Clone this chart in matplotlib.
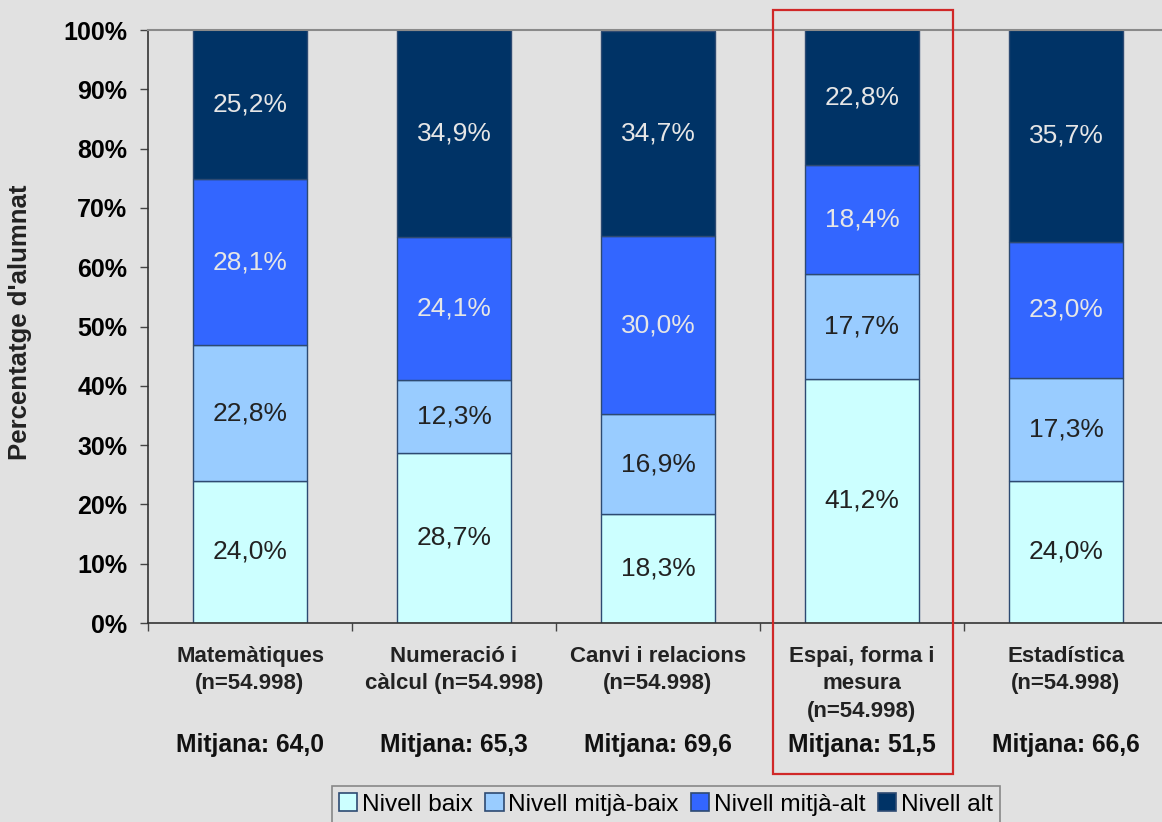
import numpy as np
import matplotlib
matplotlib.use("Agg")
import matplotlib.pyplot as plt
from matplotlib.patches import Rectangle, Patch

# Data
categories = ["Matemàtiques\n(n=54.998)", "Numeració i\ncàlcul (n=54.998)",
              "Canvi i relacions\n(n=54.998)", "Espai, forma i\nmesura\n(n=54.998)",
              "Estadística\n(n=54.998)"]
means = ["Mitjana: 64,0", "Mitjana: 65,3", "Mitjana: 69,6", "Mitjana: 51,5", "Mitjana: 66,6"]
series_names = ["Nivell baix", "Nivell mitjà-baix", "Nivell mitjà-alt", "Nivell alt"]
baix = [24.0, 28.7, 18.3, 41.2, 24.0]
mitja_baix = [22.8, 12.3, 16.9, 17.7, 17.3]
mitja_alt = [28.1, 24.1, 30.0, 18.4, 23.0]
alt = [25.2, 34.9, 34.7, 22.8, 35.7]

colors = ["#ccffff", "#99ccff", "#3366ff", "#003366"]
label_colors = ["#222222", "#222222", "#e6e6e6", "#e6e6e6"]
BG = "#e1e1e1"

plt.rcParams['font.family'] = ['Liberation Sans', 'DejaVu Sans']

fig = plt.figure(figsize=(11.62, 8.22), dpi=100, facecolor=BG)
ax = fig.add_axes([148 / 1162, 1 - 623 / 822, 1020 / 1162, 593 / 822])
ax.set_facecolor(BG)

x = np.arange(len(categories))
bottom = np.zeros(len(categories))
for vals, col, lc in zip([baix, mitja_baix, mitja_alt, alt], colors, label_colors):
    vals = np.array(vals)
    ax.bar(x, vals, width=0.555, bottom=bottom, color=col, edgecolor="#2d4a72",
           linewidth=1.0, zorder=2)
    for xi, b, v in zip(x, bottom, vals):
        ax.text(xi, min(b + v / 2, b + (100 - b) / 2), f"{v:.1f}%".replace(".", ","),
                ha="center", va="center", fontsize=19, color=lc, zorder=3)
    bottom += vals

ax.set_xlim(-0.5, len(categories) - 0.5)
ax.set_ylim(0, 100)
ax.set_yticks(np.arange(0, 101, 10))
ax.set_yticklabels([f"{v}%" for v in range(0, 101, 10)], fontsize=18, fontweight="bold")
ax.tick_params(axis="y", length=6, width=1, color="#444444", pad=9)

ax.set_xticks(np.arange(-0.5, len(categories), 1.0))
ax.set_xticklabels([])
ax.tick_params(axis="x", length=6, width=1, color="#444444")

for s in ["left", "bottom"]:
    ax.spines[s].set_color("#333333")
    ax.spines[s].set_linewidth(1.2)
ax.spines["top"].set_color("#8a8a8a")
ax.spines["top"].set_linewidth(1.5)
ax.spines["right"].set_visible(False)

trans = ax.get_xaxis_transform()
for xi, cat, m in zip(x, categories, means):
    ax.text(xi, -0.038, cat, transform=trans, ha="center", va="top",
            fontsize=16, fontweight="bold", color="#222222", linespacing=1.42)
    ax.text(xi, -0.2057, m, transform=trans, ha="center", va="center",
            fontsize=17.7, fontweight="bold", color="#111111")

fig.text(20 / 1162, 1 - 322 / 822, "Percentatge d'alumnat", rotation=90,
         ha="center", va="center", fontsize=18.5, fontweight="bold", color="#222222")

# highlight box
fig.patches.append(Rectangle((773 / 1162, 1 - 774 / 822), 180 / 1162, 764 / 822,
                             transform=fig.transFigure, fill=False,
                             edgecolor="#d02828", linewidth=1.6))

handles = [Patch(facecolor=c, edgecolor="#2d4a72", linewidth=1.2) for c in colors]
leg = fig.legend(handles, series_names, loc="upper center",
                 bbox_to_anchor=(666 / 1162, 1 - 786 / 822), ncol=4,
                 fontsize=17.6, frameon=True, fancybox=False, edgecolor="#888888",
                 facecolor=BG, framealpha=1, handlelength=0.75, handleheight=0.75,
                 handletextpad=0.2, columnspacing=0.5, borderpad=0.3,
                 borderaxespad=0)
leg.get_frame().set_linewidth(1.2)

fig.savefig("out.png", dpi=100, facecolor=BG)
